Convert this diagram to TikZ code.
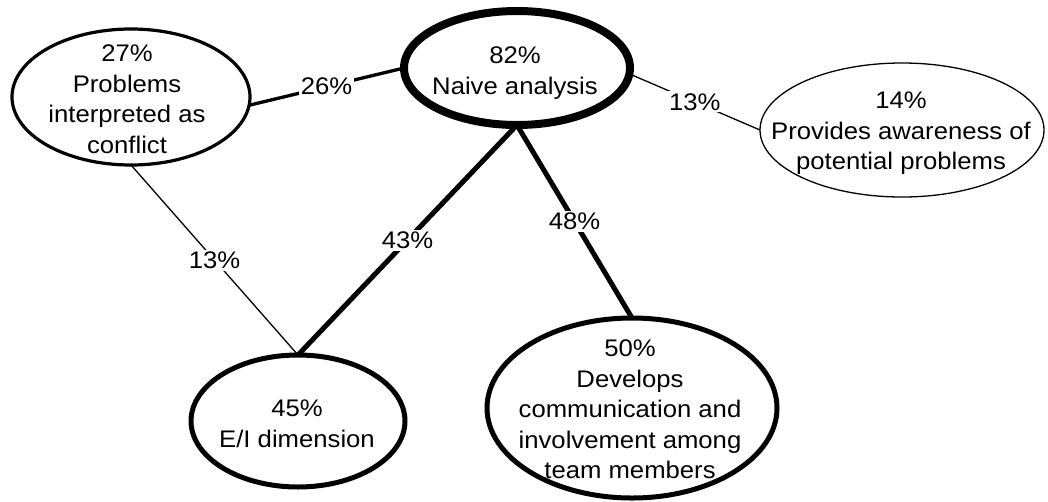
\documentclass[tikz,border=0pt]{standalone}
\usepackage{fontspec}
\setmainfont{Liberation Sans}[FakeStretch=1.07]
\usetikzlibrary{shapes.geometric}
\begin{document}
\begin{tikzpicture}[x=1pt,y=-1pt,
  oval/.style={ellipse, draw, inner sep=0pt, outer sep=0pt},
  txt/.style={anchor=north, inner sep=0pt, align=center,
              font=\fontsize{24}{30.5}\selectfont},
  pct/.style={fill=white, inner sep=2pt, font=\fontsize{24}{30.5}\selectfont},
  thinlink/.style={line width=1.3pt},
  midlink/.style={line width=3.3pt},
  heavylink/.style={line width=5pt}
]
\useasboundingbox (0,0) rectangle (1048,501);

% theme ellipses
\node[oval, line width=8pt, minimum width=226pt, minimum height=114pt] (naive) at (517,68) {};
\node[oval, line width=3.2pt, minimum width=238pt, minimum height=136pt] (prob) at (131,97) {};
\node[oval, line width=1.3pt, minimum width=284pt, minimum height=134pt] (prov) at (902,130) {};
\node[oval, line width=5pt, minimum width=214pt, minimum height=132pt] (ei) at (298,421) {};
\node[oval, line width=5pt, minimum width=290pt, minimum height=180pt] (dev) at (632,408) {};

% co-occurrence links
\draw[midlink] (prob.-4) -- node[pct] {26\%} (naive.west);
\draw[thinlink] (naive.-3) -- node[pct] {13\%} (prov.west);
\draw[heavylink] (naive.south) -- node[pct] {43\%} (ei.north);
\draw[heavylink] (naive.south) -- node[pct] {48\%} (dev.north);
\draw[thinlink] (prob.south) -- node[pct] {13\%} (ei.north);

% ellipse captions
\node[txt] (tnaive) at (515,47) {82\%\\Naive analysis};
\node[txt] (tprob) at (127,45) {27\%\\Problems\\interpreted as\\conflict};
\node[txt] (tprov) at (901,92) {14\%\\Provides awareness of\\potential problems};
\node[txt] (tei) at (297,400) {45\%\\E/I dimension};
\node[txt] (tdev) at (630,340) {50\%\\Develops\\communication and\\involvement among\\team members};
\end{tikzpicture}
\end{document}
